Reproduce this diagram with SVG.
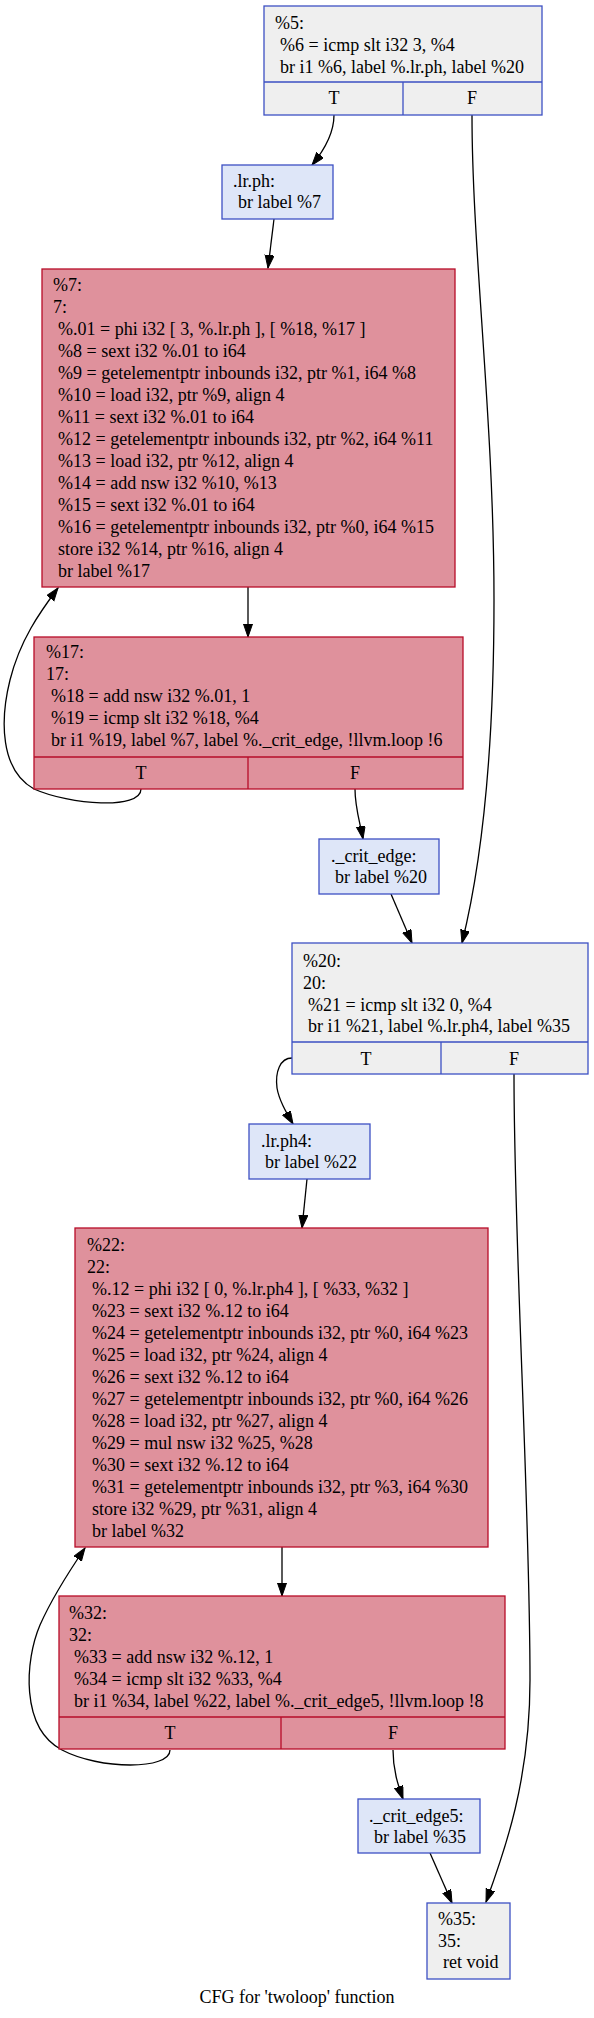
<svg xmlns="http://www.w3.org/2000/svg" width="594" height="2018" viewBox="0 0 594 2018">
<style>
text { font-family: "Liberation Serif", "Times New Roman", serif; font-size: 18px; fill: #000; }
.c { text-anchor: middle; }
.gray { fill: #efefef; stroke: #3d50c3; stroke-width: 1.3; }
.blue { fill: #dee6f8; stroke: #3d50c3; stroke-width: 1.3; }
.hot { fill: #df919c; stroke: #b70d28; stroke-width: 1.3; }
.div { fill: none; stroke-width: 1.3; }
.edge { fill: none; stroke: #000; stroke-width: 1.3; marker-end: url(#ah); }
</style>
<defs>
<marker id="ah" markerUnits="userSpaceOnUse" markerWidth="14" markerHeight="10" refX="13" refY="4.5" orient="auto">
<path d="M0,0 L13,4.5 L0,9 z" fill="#000" stroke="#000" stroke-width="1"/>
</marker>
</defs>
<rect width="594" height="2018" fill="#fff"/>

<g id="connectors">
<path class="edge" d="M334,115 C334,132 326,148 312,165"/>
<path class="edge" d="M472,115 C472,250 494,420 494,600 C494,760 480,870 462,943"/>
<path class="edge" d="M274,219 L268,268"/>
<path class="edge" d="M248,587 L248,637"/>
<path class="edge" d="M141,789 C141,810 70,805 34,789 C0,770 0,720 10,680 C20,640 40,612 58,588"/>
<path class="edge" d="M355,789 C355,808 360,822 363,839"/>
<path class="edge" d="M391,894 L412,943"/>
<path class="edge" d="M292,1058 C280,1058 275,1072 277,1088 C279,1100 286,1112 293,1124"/>
<path class="edge" d="M514,1074 C514,1250 530,1500 530,1680 C530,1780 505,1850 486,1902"/>
<path class="edge" d="M307,1179 L302,1228"/>
<path class="edge" d="M282,1547 L282,1596"/>
<path class="edge" d="M170,1750 C170,1770 100,1770 62,1750 C20,1728 25,1660 40,1625 C52,1598 70,1570 85,1548"/>
<path class="edge" d="M393,1750 C393,1770 398,1785 403,1799"/>
<path class="edge" d="M430,1853 L452,1903"/>
</g>

<g id="node_5">
<rect class="gray" x="264" y="6" width="278" height="109"/>
<path class="div" stroke="#3d50c3" d="M264,82 L542,82 M403,82 L403,115"/>
<text x="275" y="29">%5:</text>
<text x="280" y="51">%6 = icmp slt i32 3, %4</text>
<text x="280" y="73">br i1 %6, label %.lr.ph, label %20</text>
<text class="c" x="334" y="104">T</text>
<text class="c" x="472" y="104">F</text>
</g>

<g id="node_lr_ph">
<rect class="blue" x="222" y="165" width="111" height="54"/>
<text x="233" y="187">.lr.ph:</text>
<text x="238" y="208">br label %7</text>
</g>

<g id="node_7">
<rect class="hot" x="42" y="269" width="413" height="318"/>
<text x="53" y="291">%7:</text>
<text x="53" y="313">7:</text>
<text x="58" y="335">%.01 = phi i32 [ 3, %.lr.ph ], [ %18, %17 ]</text>
<text x="58" y="357">%8 = sext i32 %.01 to i64</text>
<text x="58" y="379">%9 = getelementptr inbounds i32, ptr %1, i64 %8</text>
<text x="58" y="401">%10 = load i32, ptr %9, align 4</text>
<text x="58" y="423">%11 = sext i32 %.01 to i64</text>
<text x="58" y="445">%12 = getelementptr inbounds i32, ptr %2, i64 %11</text>
<text x="58" y="467">%13 = load i32, ptr %12, align 4</text>
<text x="58" y="489">%14 = add nsw i32 %10, %13</text>
<text x="58" y="511">%15 = sext i32 %.01 to i64</text>
<text x="58" y="533">%16 = getelementptr inbounds i32, ptr %0, i64 %15</text>
<text x="58" y="555">store i32 %14, ptr %16, align 4</text>
<text x="58" y="577">br label %17</text>
</g>

<g id="node_17">
<rect class="hot" x="34" y="637" width="429" height="152"/>
<path class="div" stroke="#b70d28" d="M34,757 L463,757 M248,757 L248,789"/>
<text x="46" y="658">%17:</text>
<text x="46" y="680">17:</text>
<text x="51" y="702">%18 = add nsw i32 %.01, 1</text>
<text x="51" y="724">%19 = icmp slt i32 %18, %4</text>
<text x="51" y="746">br i1 %19, label %7, label %._crit_edge, !llvm.loop !6</text>
<text class="c" x="141" y="779">T</text>
<text class="c" x="355" y="779">F</text>
</g>

<g id="node_crit_edge">
<rect class="blue" x="319" y="839" width="120" height="55"/>
<text x="331" y="862">._crit_edge:</text>
<text x="335" y="883">br label %20</text>
</g>

<g id="node_20">
<rect class="gray" x="292" y="943" width="296" height="131"/>
<path class="div" stroke="#3d50c3" d="M292,1042 L588,1042 M441,1042 L441,1074"/>
<text x="303" y="967">%20:</text>
<text x="303" y="989">20:</text>
<text x="308" y="1011">%21 = icmp slt i32 0, %4</text>
<text x="308" y="1032">br i1 %21, label %.lr.ph4, label %35</text>
<text class="c" x="366" y="1065">T</text>
<text class="c" x="514" y="1065">F</text>
</g>

<g id="node_lr_ph4">
<rect class="blue" x="249" y="1124" width="121" height="55"/>
<text x="261" y="1147">.lr.ph4:</text>
<text x="265" y="1168">br label %22</text>
</g>

<g id="node_22">
<rect class="hot" x="75" y="1228" width="413" height="319"/>
<text x="87" y="1251">%22:</text>
<text x="87" y="1273">22:</text>
<text x="92" y="1295">%.12 = phi i32 [ 0, %.lr.ph4 ], [ %33, %32 ]</text>
<text x="92" y="1317">%23 = sext i32 %.12 to i64</text>
<text x="92" y="1339">%24 = getelementptr inbounds i32, ptr %0, i64 %23</text>
<text x="92" y="1361">%25 = load i32, ptr %24, align 4</text>
<text x="92" y="1383">%26 = sext i32 %.12 to i64</text>
<text x="92" y="1405">%27 = getelementptr inbounds i32, ptr %0, i64 %26</text>
<text x="92" y="1427">%28 = load i32, ptr %27, align 4</text>
<text x="92" y="1449">%29 = mul nsw i32 %25, %28</text>
<text x="92" y="1471">%30 = sext i32 %.12 to i64</text>
<text x="92" y="1493">%31 = getelementptr inbounds i32, ptr %3, i64 %30</text>
<text x="92" y="1515">store i32 %29, ptr %31, align 4</text>
<text x="92" y="1537">br label %32</text>
</g>

<g id="node_32">
<rect class="hot" x="59" y="1596" width="446" height="153"/>
<path class="div" stroke="#b70d28" d="M59,1717 L505,1717 M281,1717 L281,1749"/>
<text x="69" y="1619">%32:</text>
<text x="69" y="1641">32:</text>
<text x="74" y="1663">%33 = add nsw i32 %.12, 1</text>
<text x="74" y="1685">%34 = icmp slt i32 %33, %4</text>
<text x="74" y="1707">br i1 %34, label %22, label %._crit_edge5, !llvm.loop !8</text>
<text class="c" x="170" y="1739">T</text>
<text class="c" x="393" y="1739">F</text>
</g>

<g id="node_crit_edge5">
<rect class="blue" x="358" y="1799" width="122" height="54"/>
<text x="369" y="1822">._crit_edge5:</text>
<text x="374" y="1843">br label %35</text>
</g>

<g id="node_35">
<rect class="gray" x="427" y="1903" width="83" height="76"/>
<text x="438" y="1925">%35:</text>
<text x="438" y="1947">35:</text>
<text x="443" y="1968">ret void</text>
</g>

<text class="c" x="297" y="2003">CFG for 'twoloop' function</text>
</svg>
